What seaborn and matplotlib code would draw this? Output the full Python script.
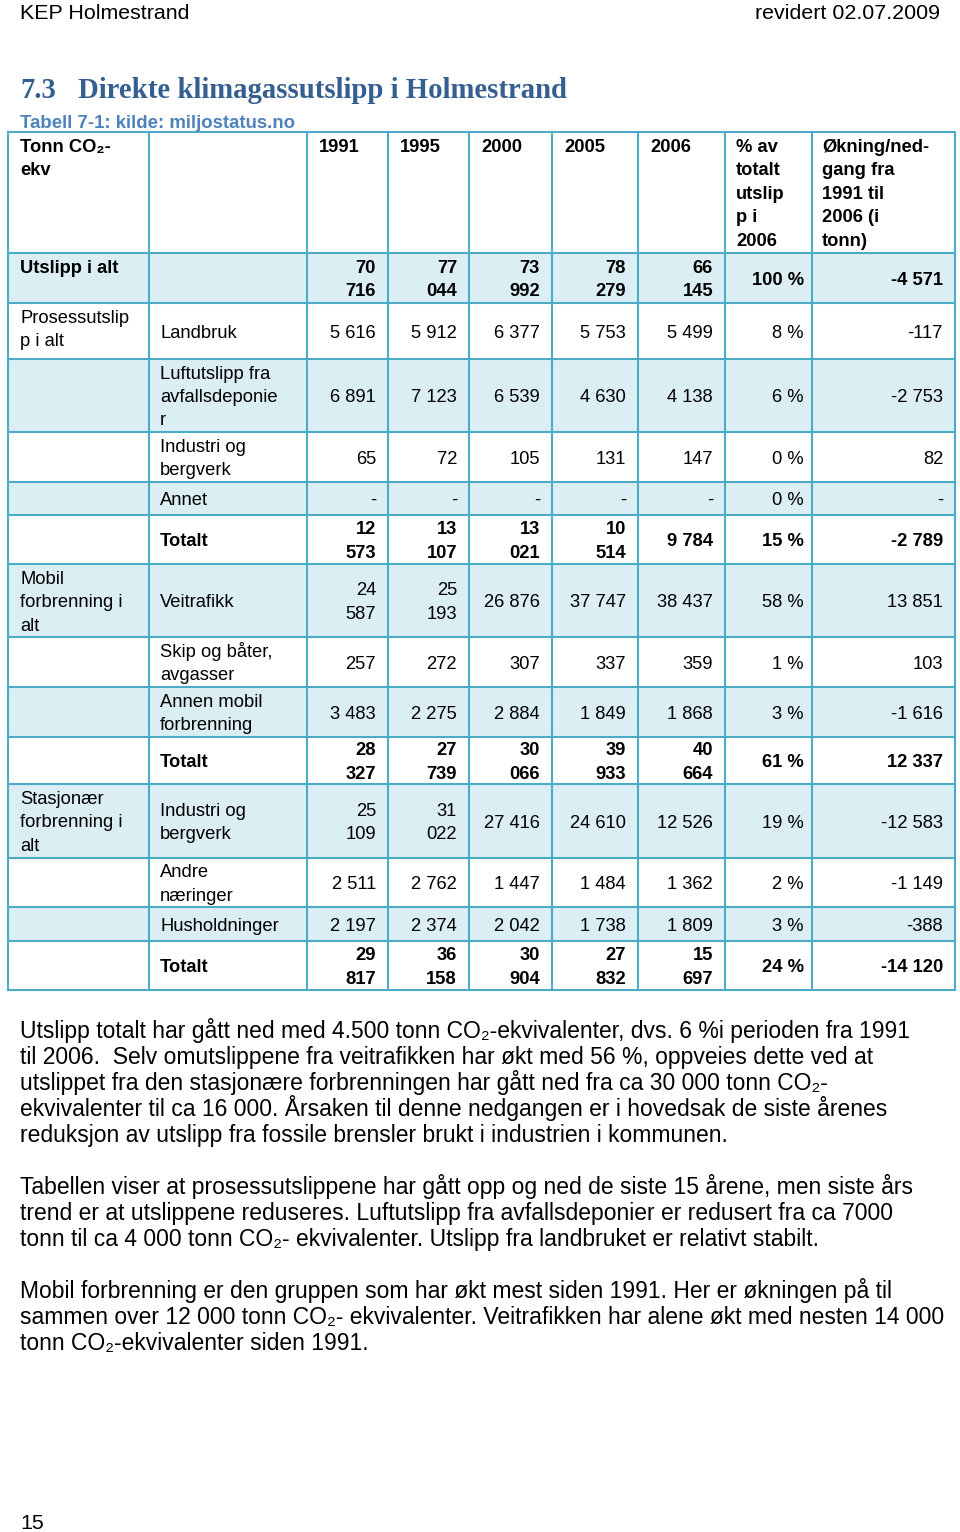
import matplotlib
matplotlib.use("Agg")
import matplotlib.pyplot as plt
import seaborn as sns
from matplotlib import font_manager as fm
from matplotlib.patches import Rectangle

# ---------------- data ----------------
years = ["1991", "1995", "2000", "2005", "2006"]
group_labels = ["Utslipp i alt", "Prosessutslip\np i alt", "", "", "", "",
                "Mobil\nforbrenning i\nalt", "", "", "",
                "Stasjonær\nforbrenning i\nalt", "", "", ""]
sub_labels = ["", "Landbruk", "Luftutslipp fra\navfallsdeponie\nr", "Industri og\nbergverk",
              "Annet", "Totalt", "Veitrafikk", "Skip og båter,\navgasser",
              "Annen mobil\nforbrenning", "Totalt", "Industri og\nbergverk",
              "Andre\nnæringer", "Husholdninger", "Totalt"]
v1991 = [70716, 5616, 6891, 65, None, 12573, 24587, 257, 3483, 28327, 25109, 2511, 2197, 29817]
v1995 = [77044, 5912, 7123, 72, None, 13107, 25193, 272, 2275, 27739, 31022, 2762, 2374, 36158]
v2000 = [73992, 6377, 6539, 105, None, 13021, 26876, 307, 2884, 30066, 27416, 1447, 2042, 30904]
v2005 = [78279, 5753, 4630, 131, None, 10514, 37747, 337, 1849, 39933, 24610, 1484, 1738, 27832]
v2006 = [66145, 5499, 4138, 147, None, 9784, 38437, 359, 1868, 40664, 12526, 1362, 1809, 15697]
share_2006 = [100, 8, 6, 0, 0, 15, 58, 1, 3, 61, 19, 2, 3, 24]
change_91_06 = [-4571, -117, -2753, 82, None, -2789, 13851, 103, -1616, 12337, -12583, -1149, -388, -14120]
header_first = "Tonn CO\u2082-\nekv"
header_share = "% av\ntotalt\nutslip\np i\n2006"
header_change = "Økning/ned-\ngang fra\n1991 til\n2006 (i\ntonn)"

paragraphs = [
    ["Utslipp totalt har gått ned med 4.500 tonn CO\u2082-ekvivalenter, dvs. 6 %i perioden fra 1991",
     "til 2006.  Selv omutslippene fra veitrafikken har økt med 56 %, oppveies dette ved at",
     "utslippet fra den stasjonære forbrenningen har gått ned fra ca 30 000 tonn CO\u2082-",
     "ekvivalenter til ca 16 000. Årsaken til denne nedgangen er i hovedsak de siste årenes",
     "reduksjon av utslipp fra fossile brensler brukt i industrien i kommunen."],
    ["Tabellen viser at prosessutslippene har gått opp og ned de siste 15 årene, men siste års",
     "trend er at utslippene reduseres. Luftutslipp fra avfallsdeponier er redusert fra ca 7000",
     "tonn til ca 4 000 tonn CO\u2082- ekvivalenter. Utslipp fra landbruket er relativt stabilt."],
    ["Mobil forbrenning er den gruppen som har økt mest siden 1991. Her er økningen på til",
     "sammen over 12 000 tonn CO\u2082- ekvivalenter. Veitrafikken har alene økt med nesten 14 000",
     "tonn CO\u2082-ekvivalenter siden 1991."],
]

# ---------------- style ----------------
sns.set_theme(style="white")
avail = {f.name for f in fm.fontManager.ttflist}
def pick(cands):
    for c in cands:
        if c in avail:
            return c
    return "DejaVu Sans"
SANS = pick(["Liberation Sans", "Arial", "DejaVu Sans"])
SERIF = pick(["Liberation Serif", "DejaVu Serif"])
plt.rcParams["font.family"] = [SANS, "DejaVu Sans"]
SF = [SANS, "DejaVu Sans"]

BORDER = "#4BACC6"
BAND = "#DAEEF3"

W, H = 960, 1532
fig = plt.figure(figsize=(W / 100, H / 100), dpi=100)
ax = fig.add_axes([0, 0, 1, 1])
ax.set_xlim(0, W)
ax.set_ylim(H, 0)
ax.axis("off")
renderer = fig.canvas.get_renderer()

def fit(text, family, weight, target):
    t = ax.text(0, 0, text, fontsize=12, family=family, weight=weight)
    w = t.get_window_extent(renderer).width
    t.remove()
    return 12 * target / w

def put(x, yc, s, fs, ha="left", weight="normal", family=None, color="black"):
    fam = family if family else SF
    base = yc + 0.358 * fs * 100 / 72
    ax.text(x, base, s, fontsize=fs, ha=ha, va="baseline", weight=weight,
            family=fam, color=color)

# ---------------- page header ----------------
fs_h = fit("KEP Holmestrand", SF, "normal", 170)
put(20, 11, "KEP Holmestrand", fs_h)
put(940, 11, "revidert 02.07.2009", fs_h, ha="right")

fs_t = fit("Direkte klimagassutslipp i Holmestrand", [SERIF], "bold", 487)
put(20, 88, "7.3", fs_t, weight="bold", family=[SERIF], color="#365F91")
put(78, 88, "Direkte klimagassutslipp i Holmestrand", fs_t, weight="bold",
    family=[SERIF], color="#365F91")
fs_c = fit("Tabell 7-1: kilde: miljostatus.no", SF, "bold", 275)
put(20, 121, "Tabell 7-1: kilde: miljostatus.no", fs_c, weight="bold", color="#4F81BD")

# ---------------- table ----------------
col_x = [8, 149, 307, 388, 469, 552, 638, 725, 812, 955]
row_y = [132, 253, 303, 359, 432, 482, 515, 564, 637, 687, 737, 784, 858, 907, 941, 990]
FS = 13.2
LS = 23.4

for r in range(len(row_y) - 1):
    if r % 2 == 1:
        ax.add_patch(Rectangle((col_x[0], row_y[r]), col_x[-1] - col_x[0],
                               row_y[r + 1] - row_y[r], facecolor=BAND,
                               edgecolor="none", zorder=0))
for y in row_y:
    ax.plot([col_x[0], col_x[-1]], [y, y], color=BORDER, lw=1.5, zorder=2,
            solid_capstyle="projecting")
for x in col_x:
    ax.plot([x, x], [row_y[0], row_y[-1]], color=BORDER, lw=1.5, zorder=2,
            solid_capstyle="projecting")

def lines_top(x, top, s, bold, ha="left"):
    for k, line in enumerate(s.split("\n")):
        put(x, top + 13.5 + k * LS, line, FS, ha=ha, weight="bold" if bold else "normal")

def lines_mid(x, y0, y1, s, bold, ha="left"):
    parts = s.split("\n")
    c = (y0 + y1) / 2 - (len(parts) - 1) * LS / 2
    for k, line in enumerate(parts):
        put(x, c + k * LS, line, FS, ha=ha, weight="bold" if bold else "normal")

# header row
lines_top(20, row_y[0], header_first, True)
for j, yr in enumerate(years):
    lines_top(col_x[2 + j] + 12, row_y[0], yr, True)
lines_top(col_x[7] + 11, row_y[0], header_share, True)
lines_top(col_x[8] + 10, row_y[0], header_change, True)

def fmt(v):
    if v is None:
        return "-"
    return f"{v:,}".replace(",", " ")

series = [v1991, v1995, v2000, v2005, v2006]
for i in range(len(sub_labels)):
    y0, y1 = row_y[i + 1], row_y[i + 2]
    bold = (group_labels[i] == "Utslipp i alt") or (sub_labels[i] == "Totalt")
    if group_labels[i]:
        lines_top(20, y0, group_labels[i], bold)
    if sub_labels[i]:
        lines_mid(160, y0, y1, sub_labels[i], bold)
    for j, yr in enumerate(years):
        v = series[j][i]
        s = fmt(v)
        if v is not None and abs(v) >= 10000 and (bold or yr in ("1991", "1995")):
            s = s.replace(" ", "\n", 1)
        lines_mid(col_x[3 + j] - 12, y0, y1, s, bold, ha="right")
    lines_mid(col_x[8] - 8, y0, y1, f"{share_2006[i]} %", bold, ha="right")
    lines_mid(col_x[9] - 12, y0, y1, fmt(change_91_06[i]), bold, ha="right")

# ---------------- body text ----------------
fs_p = fit(paragraphs[0][0], SF, "normal", 892)
starts = [1030, 1186, 1290]
for p, y in zip(paragraphs, starts):
    for k, line in enumerate(p):
        put(20, y + k * 26, line, fs_p)

put(20, 1521, "15", fs_h)

fig.savefig("out.png", dpi=100)
